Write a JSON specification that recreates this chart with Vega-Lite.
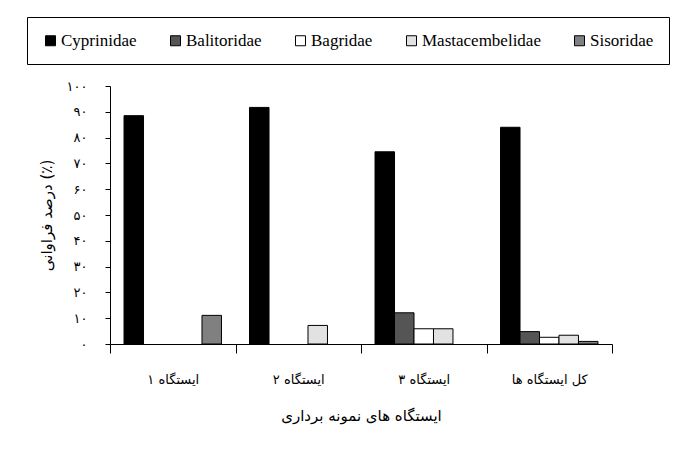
{
  "$schema": "https://vega.github.io/schema/vega-lite/v6.json",
  "width": 502,
  "height": 258,
  "autosize": {"type": "none"},
  "padding": {"left": 110, "top": 86, "right": 69, "bottom": 106},
  "background": "white",
  "data": {
    "values": [
      {"station": "ایستگاه ۱", "family": "Cyprinidae", "percent": 88.5},
      {"station": "ایستگاه ۱", "family": "Sisoridae", "percent": 11.1},
      {"station": "ایستگاه ۲", "family": "Cyprinidae", "percent": 91.7},
      {"station": "ایستگاه ۲", "family": "Mastacembelidae", "percent": 7.2},
      {"station": "ایستگاه ۳", "family": "Cyprinidae", "percent": 74.5},
      {"station": "ایستگاه ۳", "family": "Balitoridae", "percent": 12.1},
      {"station": "ایستگاه ۳", "family": "Bagridae", "percent": 5.9},
      {"station": "ایستگاه ۳", "family": "Mastacembelidae", "percent": 5.9},
      {"station": "کل ایستگاه ها", "family": "Cyprinidae", "percent": 84.0},
      {"station": "کل ایستگاه ها", "family": "Balitoridae", "percent": 4.8},
      {"station": "کل ایستگاه ها", "family": "Bagridae", "percent": 2.6},
      {"station": "کل ایستگاه ها", "family": "Mastacembelidae", "percent": 3.4},
      {"station": "کل ایستگاه ها", "family": "Sisoridae", "percent": 1.0}
    ]
  },
  "mark": {"type": "bar", "stroke": "black", "strokeWidth": 1},
  "encoding": {
    "x": {
      "field": "station",
      "type": "nominal",
      "sort": ["ایستگاه ۱", "ایستگاه ۲", "ایستگاه ۳", "کل ایستگاه ها"],
      "scale": {"paddingInner": 0, "paddingOuter": 0},
      "axis": {
        "title": "ایستگاه های نمونه برداری",
        "titleFont": "DejaVu Sans",
        "titleFontSize": 15,
        "titleFontWeight": "normal",
        "titleColor": "black",
        "titlePadding": 22,
        "labelFont": "DejaVu Sans",
        "labelFontSize": 13,
        "labelColor": "black",
        "labelAngle": 0,
        "labelPadding": 20,
        "tickBand": "extent",
        "tickSize": 9,
        "tickColor": "black",
        "domainColor": "black",
        "grid": false
      }
    },
    "xOffset": {
      "field": "family",
      "type": "nominal",
      "scale": {"domain": ["Cyprinidae", "Balitoridae", "Bagridae", "Mastacembelidae", "Sisoridae"], "paddingInner": 0, "paddingOuter": 0.72}
    },
    "y": {
      "field": "percent",
      "type": "quantitative",
      "scale": {"domain": [0, 100], "nice": false},
      "axis": {
        "title": "درصد فراوانی (٪)",
        "titleFont": "DejaVu Sans",
        "titleFontSize": 15,
        "titleFontWeight": "normal",
        "titleColor": "black",
        "titlePadding": 12,
        "values": [0, 10, 20, 30, 40, 50, 60, 70, 80, 90, 100],
        "labelExpr": "['۰','۱۰','۲۰','۳۰','۴۰','۵۰','۶۰','۷۰','۸۰','۹۰','۱۰۰'][round(datum.value/10)]",
        "labelFont": "DejaVu Sans",
        "labelFontSize": 13,
        "labelColor": "black",
        "labelPadding": 18,
        "tickSize": 5,
        "tickColor": "black",
        "domainColor": "black",
        "grid": false
      }
    },
    "color": {
      "field": "family",
      "type": "nominal",
      "scale": {
        "domain": ["Cyprinidae", "Balitoridae", "Bagridae", "Mastacembelidae", "Sisoridae"],
        "range": ["#000000", "#555555", "#ffffff", "#e2e2e2", "#808080"]
      },
      "legend": {
        "title": null,
        "orient": "none",
        "direction": "horizontal",
        "legendX": -83,
        "legendY": -69,
        "columns": 5,
        "columnPadding": 30,
        "padding": 15,
        "strokeColor": "black",
        "symbolType": "square",
        "symbolSize": 100,
        "symbolStrokeColor": "black",
        "symbolStrokeWidth": 1,
        "labelFont": "Liberation Serif",
        "labelFontSize": 17,
        "labelColor": "black",
        "labelOffset": 2
      }
    }
  },
  "config": {
    "view": {"stroke": null},
    "axis": {"domainWidth": 1, "tickWidth": 1}
  }
}
